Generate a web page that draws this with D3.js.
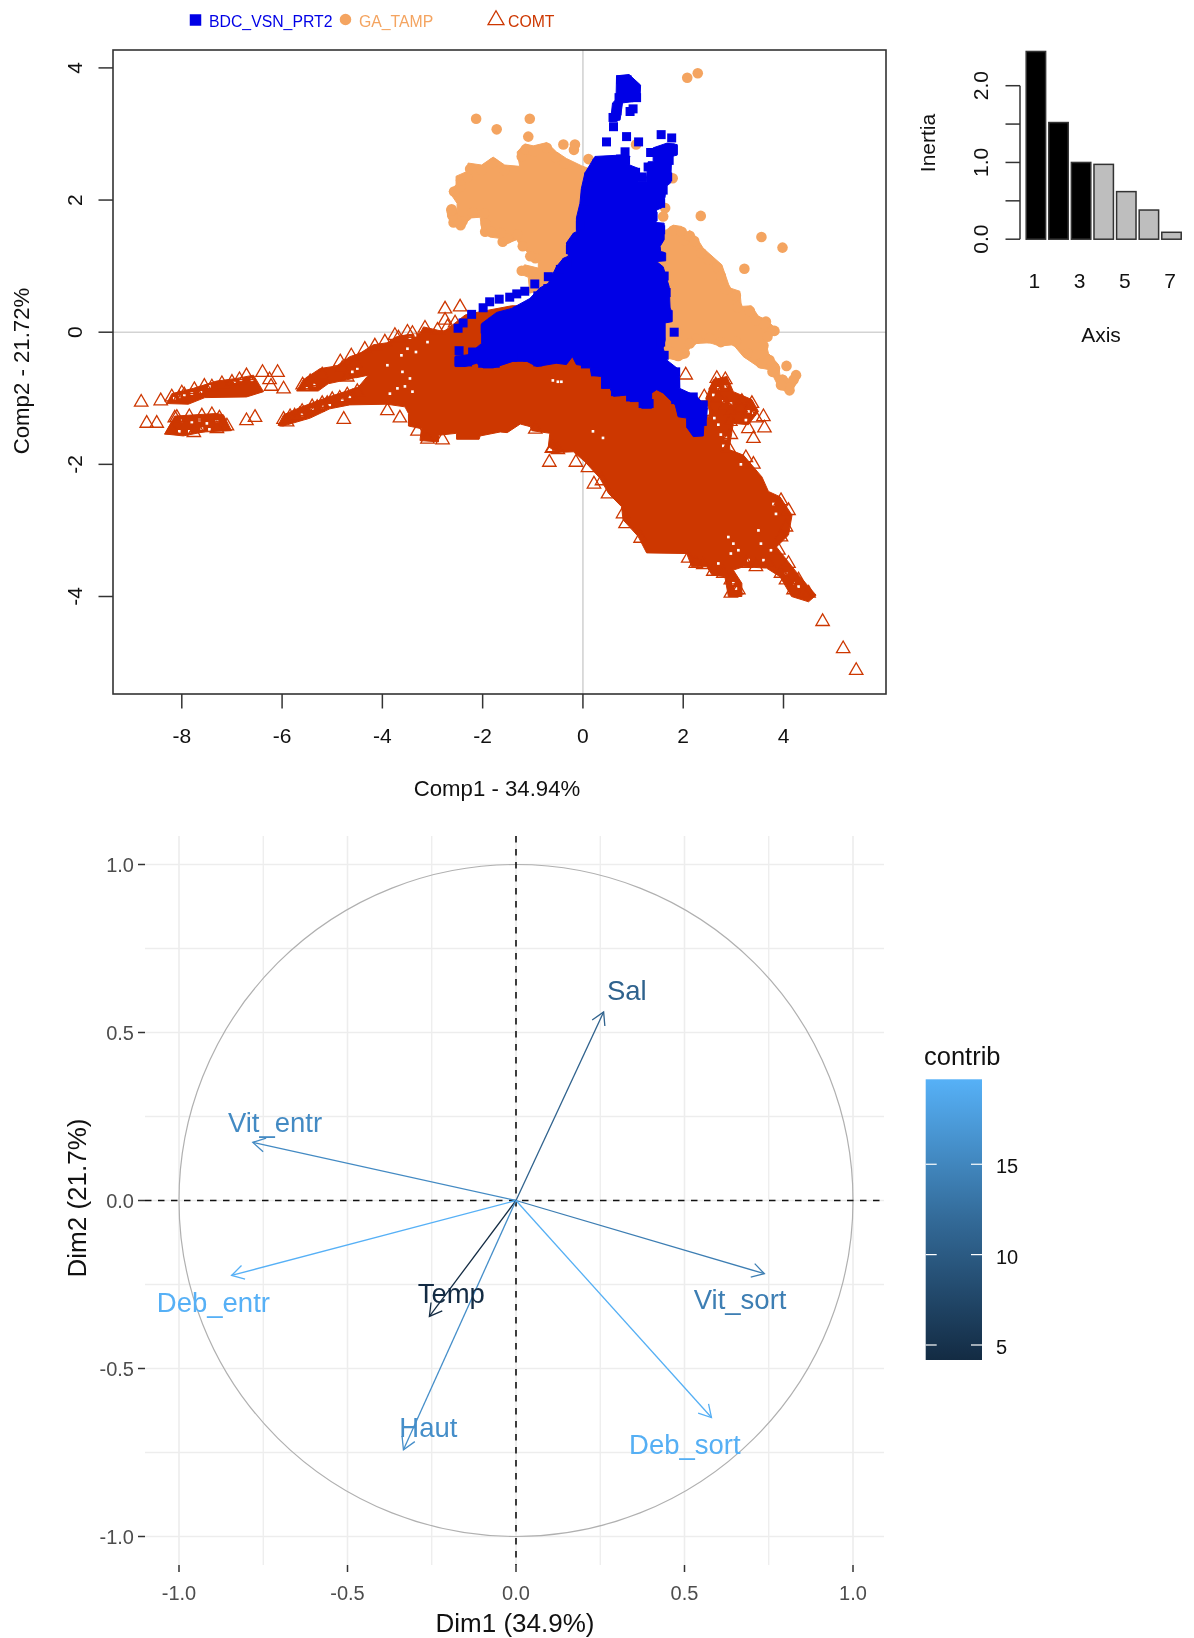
<!DOCTYPE html>
<html><head><meta charset="utf-8">
<script src="https://cdn.jsdelivr.net/npm/d3@7"></script>
<style>html,body{margin:0;padding:0;background:#fff}svg{display:block;filter:blur(0.45px)}text{font-family:"Liberation Sans",Arial,sans-serif}</style>
</head><body><svg id="c" width="1194" height="1638"></svg>
<script>
// ---- individuals map: dense regions (Comp1, Comp2) ----
const orangeLeftOutline=[[-1.31,2.73],[-1.16,2.85],[-.99,2.82],[-.72,2.87],[-.53,2.73],[-.33,2.63],[-.03,2.52],[.34,2.41],[.34,1.15],[-.66,.69],[-.86,.64],[-1.06,.59],[-1.09,.83],[-1.24,.88],[-1.27,.94],[-1.16,1.02],[-.89,.97],[-.89,1.12],[-1.09,1.20],[-1.26,1.32],[-1.32,1.40],[-1.52,1.34],[-1.66,1.42],[-1.86,1.44],[-2.02,1.57],[-2.05,1.74],[-2.22,1.73],[-2.42,1.60],[-2.55,1.62],[-2.70,1.75],[-2.71,1.88],[-2.55,1.90],[-2.51,1.83],[-2.51,1.95],[-2.67,2.13],[-2.53,2.23],[-2.53,2.36],[-2.32,2.43],[-2.29,2.56],[-2.02,2.53],[-1.79,2.65],[-1.56,2.53],[-1.26,2.51],[-1.31,2.71]];
const orangeRightOutline=[[1.67,1.55],[1.80,1.62],[1.97,1.60],[2.03,1.47],[2.13,1.54],[2.25,1.45],[2.40,1.27],[2.77,1.02],[2.93,.67],[3.13,.62],[3.16,.39],[3.36,.40],[3.50,.24],[3.66,.19],[3.86,.04],[3.76,-.07],[3.63,-.09],[3.70,-.32],[3.90,-.49],[3.93,-.65],[4.13,-.72],[4.30,-.72],[4.16,-.90],[3.93,-.87],[3.73,-.57],[3.53,-.54],[3.20,-.37],[3.00,-.19],[2.73,-.21],[2.53,-.16],[2.27,-.17],[2.13,-.24],[2.03,-.39],[1.90,-.43],[1.67,-.39],[1.0,-.37],[1.0,1.40]];
const orangePoints=[[.11,2.62],[-2.13,3.23],[-1.72,3.07],[-1.06,3.23],[-1.09,2.96],[-.39,2.84],[-.16,2.84],[-.18,2.76],[1.06,2.84],[2.08,3.85],[2.29,3.92],[1.79,2.33],[1.64,1.88],[1.60,1.75],[2.35,1.76],[3.56,1.44],[3.98,1.28],[3.22,.96],[4.06,-.51],[4.25,-.65],[-2.62,1.86],[-2.58,1.66],[-2.44,1.62],[-1.95,1.52],[-1.6,1.37],[-1.22,.93],[3.82,.02],[3.98,-.72],[4.12,-.88],[3.65,.16],
[-1.22,2.66],[-1.14,2.77],[-.98,2.74],[-.72,2.79],[-.55,2.65],[-.36,2.55],[-.95,1.12],[-1.05,1.15],[-1.2,1.30],[-1.3,1.48],[-1.5,1.42],[-1.64,1.5],[-1.84,1.52],[-1.94,1.64],[-1.97,1.80],[-2.2,1.81],[-2.4,1.68],[-2.52,1.7],[-2.6,1.76],[-2.62,1.84],[-2.57,2.13],[-2.44,2.2],[-2.43,2.3],[-2.3,2.35],[-2.25,2.47],[-2.02,2.45],[-1.79,2.56],[-1.56,2.45],
[1.80,1.54],[1.97,1.52],[2.03,1.39],[2.13,1.46],[2.22,1.38],[2.36,1.2],[2.5,1.1],[2.68,.98],[2.75,.85],[2.85,.65],[3.05,.55],[3.08,.38],[3.33,.32],[3.45,.18],[3.62,.12],[3.78,.02],[3.68,-.07],[3.6,-.2],[3.72,-.42],[3.83,-.55],[3.98,-.72],[4.2,-.72],[4.1,-.84],[3.95,-.8],[3.78,-.6],[3.55,-.47],[3.28,-.32],[3.05,-.14],[2.75,-.15],[2.53,-.09],[2.27,-.1],[2.13,-.17],[2.03,-.32],[1.9,-.36],[1.75,-.3]];
const redMainOutline=[[-5.71,-.89],[-5.58,-.72],[-5.24,-.55],[-4.91,-.51],[-4.65,-.37],[-4.45,-.32],[-4.18,-.19],[-3.91,-.16],[-3.72,-.07],[-3.52,-.04],[-3.25,-.02],[-3.18,.08],[-2.78,.01],[-2.65,.08],[-2.35,.26],[-2.05,.31],[-1.42,.40],[-1.05,.40],[-1.0,.2],[-.5,0],[.5,-.4],[1.0,-.5],[1.8,-.9],[2.3,-1.05],[2.5,-1.3],[2.6,-1.0],[2.9,-1.45],[2.93,-1.78],[3.20,-1.86],[3.57,-2.19],[3.70,-2.41],[3.93,-2.49],[4.17,-2.77],[4.10,-3.07],[3.86,-3.25],[4.33,-3.70],[4.65,-3.98],[4.50,-4.08],[4.16,-4.00],[3.93,-3.70],[3.66,-3.57],[3.20,-3.55],[3.00,-3.60],[3.17,-3.80],[3.17,-4.00],[2.90,-4.00],[2.83,-3.70],[2.57,-3.67],[2.47,-3.55],[2.17,-3.55],[2.07,-3.35],[1.27,-3.34],[1.10,-3.09],[.80,-2.84],[.77,-2.64],[.51,-2.44],[.34,-2.21],[.04,-1.96],[-.19,-1.81],[-.52,-1.82],[-.69,-1.73],[-.66,-1.53],[-1.02,-1.49],[-1.05,-1.43],[-1.25,-1.39],[-1.51,-1.52],[-1.65,-1.51],[-2.05,-1.57],[-2.07,-1.62],[-2.52,-1.62],[-2.52,-1.53],[-2.88,-1.56],[-2.88,-1.66],[-3.25,-1.64],[-3.22,-1.46],[-3.48,-1.42],[-3.48,-1.23],[-3.55,-1.13],[-3.91,-1.09],[-4.65,-1.10],[-5.05,-1.16],[-5.44,-1.30],[-5.98,-1.42],[-6.08,-1.41],[-5.97,-1.25],[-5.61,-1.13],[-5.11,-.99],[-4.71,-.89],[-4.48,-.83],[-4.28,-.65],[-4.71,-.72],[-5.08,-.78],[-5.28,-.89]];
const redArmOutline=[[-8.30,-1.08],[-8.20,-.93],[-7.77,-.85],[-7.31,-.74],[-6.91,-.70],[-6.57,-.65],[-6.37,-.90],[-6.71,-.98],[-7.54,-.99],[-7.87,-1.09]];
const redBlobOutline=[[-8.34,-1.54],[-8.14,-1.27],[-7.31,-1.23],[-7.17,-1.25],[-7.01,-1.49],[-7.57,-1.51],[-7.97,-1.57]];
const redClusterOutline=[[2.60,-.72],[2.87,-.67],[3.00,-.90],[3.37,-1.02],[3.50,-1.20],[3.30,-1.40],[3.00,-1.38],[2.93,-1.70],[2.60,-1.40],[2.45,-1.0]];
const redPoints=[[-8.81,-1.06],[-8.42,-1.04],[-8.70,-1.38],[-8.50,-1.38],[-6.39,-.61],[-6.09,-.61],[-6.22,-.82],[-5.97,-.86],[-6.71,-1.34],[-6.54,-1.29],[-4.77,-1.32],[-3.90,-1.19],[-6.71,-.66],[-7.76,-1.52],[-8.14,-1.30],[-5.97,-1.32],[-5.84,-1.28],[-5.59,-.80],[-5.44,-.75],[-4.84,-.45],[-4.35,-.26],[-4.15,-.21],[-4.62,-.36],[-3.15,.06],[-3.68,-.09],[-2.75,.35],[-2.45,.38],[-.67,-1.97],[-.14,-1.97],[.22,-2.30],[-.62,-1.76],[4.78,-4.38],[5.19,-4.79],[5.45,-5.12],[2.05,-.65],[2.67,-.70],[2.84,-.72],[2.42,-.98],[3.17,-1.05],[3.37,-1.08],[3.60,-1.28],[3.62,-1.45],[3.40,-1.61],[3.30,-1.46],[2.94,-1.35],
[-8.2,-.98],[-8.0,-.92],[-7.75,-.87],[-7.4,-.83],[-7.0,-.76],[-6.85,-.72],[-8.1,-1.29],[-7.85,-1.28],[-7.6,-1.27],[-7.4,-1.25],[-7.25,-1.3],[-7.1,-1.42],[-7.3,-1.46],[-8.2,-1.48],[-7.7,-1.45],[-5.6,-1.2],[-5.4,-1.13],[-5.2,-1.08],[-5.0,-1.02],[-4.7,-.95],[-4.5,-.9],[-5.75,-1.27],[-5.5,-.8],[-5.2,-.65],[-4.8,-.55],[-4.55,-.47],[-4.7,-.68],[-3.95,-.15],[-3.75,-.05],[-3.5,0],[-3.4,-.02],[-2.9,.03],[-2.75,.18],[-2.7,.08],[-2.55,.14],[-3.65,-1.3],[-3.3,-1.5],[-3.1,-1.62],[-2.8,-1.63],[-.95,-1.47],[-.6,-1.75],[-.5,-1.78],[.1,-2.05],[.38,-2.25],[.5,-2.45],[.8,-2.75],[.85,-2.9],[1.15,-3.12],[2.1,-3.42],[2.25,-3.5],[2.4,-3.52],[2.6,-3.62],[2.8,-3.65],[2.95,-3.75],[3.05,-3.9],[2.95,-3.95],[3.1,-3.9],[3.25,-3.5],[3.45,-3.55],[3.7,-3.5],[3.95,-3.65],[4.05,-3.75],[4.2,-3.9],[4.4,-3.95],[4.5,-3.95],[4.3,-3.75],[4.1,-3.5],[3.9,-3.3],[3.95,-3.1],[4.05,-2.95],[4.1,-2.7],[3.95,-2.55],[3.25,-1.9],[3.4,-2.0],[2.65,-.8],[2.8,-.85],[2.7,-1.0],[2.85,-1.1],[2.95,-1.2],[3.15,-1.15],[3.3,-1.2],[3.45,-1.3],[2.95,-1.55],[2.9,-1.75],[2.5,-1.2],
[-5.9,-1.36],[-5.65,-1.25],[-5.3,-1.14],[-5.1,-1.08],[-4.85,-1.0],[-4.6,-.98],[-6.25,-.72],[-7.95,-.95],[-8.05,-1.0],[-7.55,-.82],[-7.2,-.78]];
const redGaps=[[-8.15,-1.0],[-8.05,-.98],[-7.95,-.96],[-7.8,-.93],[-7.62,-.9],[-7.45,-.82],[-6.95,-.76],[-6.82,-.72],[-6.6,-.72],[-8.0,-1.34],[-7.8,-1.36],[-7.65,-1.33],[-7.5,-1.38],[-7.3,-1.35],[-7.6,-1.46],[-7.45,-1.47],[-7.85,-1.5],[-8.05,-1.5],[-5.4,-1.17],[-5.2,-1.13],[-5.05,-1.1],[-4.8,-1.02],[-4.65,-.98],[-5.6,-1.25],[-4.6,-.6],[-4.5,-.55],[-4.55,-.72],[-5.35,-.8],[-5.5,-.85],[-3.9,-.5],[-3.6,-.6],[-3.7,-.85],[-3.55,-.82],[-3.4,-.9],[-3.85,-.93],[-3.45,-.7],[-3.62,-.35],[-3.5,-.25],[-3.33,-.3],[-3.1,-.15],[-3.45,-.08],[-3.35,-.05],[-.6,-.73],[-.5,-.75],[-.43,-.75],[.2,-1.5],[.4,-1.6],[2.7,-.85],[2.85,-.82],[2.6,-.95],[2.8,-1.05],[2.95,-1.08],[3.3,-1.2],[3.4,-1.22],[3.25,-1.33],[2.62,-1.3],[2.7,-1.4],[2.75,-1.55],[2.85,-1.6],[2.8,-1.72],[3.15,-2.0],[3.8,-2.6],[3.85,-2.75],[3.5,-3.0],[2.9,-3.1],[3.0,-3.2],[3.1,-3.3],[2.95,-3.35],[3.55,-3.2],[3.75,-3.3],[3.3,-3.45],[3.6,-3.45],[3.0,-3.8],[3.05,-3.88],[4.2,-3.8],[4.3,-3.85],[4.05,-3.65],[2.7,-3.5]];
const blueBodyOutline=[[.24,2.66],[.74,2.68],[.94,2.66],[.87,2.55],[1.10,2.48],[1.10,2.28],[1.26,2.28],[1.30,2.58],[1.40,2.58],[1.40,2.79],[1.67,2.86],[1.88,2.84],[1.88,2.68],[1.77,2.66],[1.75,2.26],[1.65,2.20],[1.64,2.05],[1.57,1.88],[1.47,1.85],[1.46,1.66],[1.62,1.65],[1.62,1.40],[1.54,1.30],[1.55,1.22],[1.65,1.20],[1.65,1.08],[1.47,1.07],[1.60,.99],[1.72,.69],[1.74,.34],[1.78,.33],[1.78,.16],[1.64,.14],[1.64,-.12],[1.60,-.24],[1.67,-.42],[1.92,-.57],[1.93,-.85],[2.27,-.97],[2.48,-1.15],[2.47,-1.28],[2.41,-1.43],[2.40,-1.57],[2.20,-1.58],[2.08,-1.45],[2.07,-1.30],[1.90,-1.28],[1.84,-1.10],[1.60,-.92],[1.47,-.87],[1.37,-.92],[1.37,-1.15],[1.17,-1.15],[1.15,-1.05],[.94,-1.05],[.90,-.95],[.61,-.97],[.54,-.85],[.37,-.85],[.37,-.67],[.17,-.65],[.14,-.52],[-.13,-.49],[-.21,-.37],[-.33,-.49],[-.53,-.47],[-.92,-.52],[-1.12,-.44],[-1.39,-.44],[-1.79,-.54],[-1.99,-.54],[-2.12,-.47],[-2.35,-.52],[-2.55,-.52],[-2.55,-.37],[-2.29,-.34],[-2.02,-.17],[-2.02,.13],[-1.72,.30],[-1.42,.36],[-1.06,.51],[-.86,.67],[-.69,.74],[-.53,.99],[-.39,1.12],[-.29,1.15],[-.33,1.35],[-.19,1.50],[-.13,1.52],[-.13,1.73],[-.06,1.95],[-.03,2.18],[.04,2.41]];
const blueFingerOutline=[[.67,3.88],[.92,3.90],[1.15,3.74],[1.14,3.57],[1.00,3.49],[.79,3.47],[.74,3.21],[.55,3.19],[.59,3.47],[.66,3.52]];
const bluePoints=[[.61,3.11],[.47,2.88],[.87,2.96],[.94,3.34],[1.00,3.38],[1.11,2.88],[1.56,2.99],[1.77,2.94],[1.74,2.79],[.84,2.73],[-.96,.73],[-.69,.84],[-1.99,.37],[-2.22,.27],[-2.49,.06],[-2.39,.14],[-2.47,-.28],[-2.47,-.44],[1.82,0],[1.27,-1.07],[-1.86,.46],[-1.67,.50],[-1.46,.53],[-1.32,.58],[-1.16,.62],
[-.9,.55],[-.7,.66],[-.55,.82],[-.45,.95],[-.32,1.05],[-.25,1.25],[-.12,1.42],[-.05,1.62],[.02,1.85],[.05,2.1],[.12,2.35],[.28,2.55],[-1.3,.32],[-1.55,.25],[-1.8,.15],[-1.95,.05],[-2.2,-.3],[-2.45,-.42],[-2.3,-.45],[-2.0,-.47],[-1.75,-.47],[-1.4,-.38],[-1.1,-.38],[-.9,-.45],[-.5,-.4],[.05,-.48],[.25,-.6],[.45,-.78],[.65,-.9],[.95,-.98],[1.2,-1.08],[1.32,-1.08],[1.85,-1.02],[1.98,-1.2],[2.15,-1.38],[2.28,-1.5],[2.38,-1.35],[2.4,-1.1],[2.2,-.98],[1.85,-.78],[1.85,-.6],[1.62,-.35],[1.55,-.15],[1.66,.3],[1.66,.6],[1.62,.85],[1.52,1.15],[1.55,1.55],[1.4,1.75],[1.55,1.95],[1.6,2.15],[1.69,2.35],[1.72,2.6],[1.8,2.76],[1.35,2.72],[1.3,2.5],[1.18,2.35],[1.05,2.42],[.85,2.6],[.75,2.62],[.75,3.82],[.88,3.82],[1.05,3.68],[1.07,3.55],[.92,3.55],[.72,3.55],[.68,3.35],[.6,3.25]];
const xTicksMap=[-8,-6,-4,-2,0,2,4];
const yTicksMap=[-4,-2,0,2,4];
const groupNames=["BDC_VSN_PRT2","GA_TAMP","COMT"];
// ---- inertia bars ----
const axisNumbers=[1,2,3,4,5,6,7];
const inertia=[2.446,1.52,1.0,.975,.62,.38,.09];
const kept=[true,true,true,false,false,false,false];
const inertiaTicks=[0,.5,1,1.5,2];
const inertiaLabels=[0,1,2];
const axisLabels=[1,3,5,7];
// ---- correlation circle ----
const varNames=["Vit_entr","Deb_entr","Temp","Haut","Sal","Vit_sort","Deb_sort"];
const dim1=[-.781,-.844,-.257,-.334,.26,.737,.58];
const dim2=[.173,-.223,-.345,-.742,.561,-.218,-.646];
const labelDim1=[-.715,-.898,-.192,-.260,.329,.665,.501];
const labelDim2=[.232,-.302,-.277,-.676,.625,-.295,-.725];
const contrib=[15.5,19.6,4.2,16,11,14.2,19.5];
const gridMajor=[-1,-.5,0,.5,1];
const gridMinor=[-.75,-.25,.25,.75];
const contribTicks=[5,10,15];

const svg=d3.select("#c");
const ORANGE="#F4A460",RED="#CD3700",BLUE="#0000E6",INK="#333";
const x=d3.scaleLinear().domain([-8,4]).range([181.8,783.5]);
const y=d3.scaleLinear().domain([-4,4]).range([596.5,67.9]);
const box={l:113,r:886,t:50,b:694};
const area=d3.line().x(d=>x(d[0])).y(d=>y(d[1])).curve(d3.curveLinearClosed);

svg.append("g").attr("stroke","#D3D3D3").attr("stroke-width",1.6).call(g=>{
 g.append("line").attr("x1",x(0)).attr("x2",x(0)).attr("y1",box.t).attr("y2",box.b);
 g.append("line").attr("x1",box.l).attr("x2",box.r).attr("y1",y(0)).attr("y2",y(0));
});
const poly=(arr,col)=>svg.append("path").attr("d",area(arr)).attr("fill",col).attr("stroke",col).attr("stroke-width",1).attr("stroke-linejoin","round");
const pts=(arr,type,size,fill,stroke,sw)=>svg.append("g").selectAll("path").data(arr).join("path")
 .attr("d",d3.symbol().type(type).size(size)).attr("transform",d=>`translate(${x(d[0])},${y(d[1])})`)
 .attr("fill",fill).attr("stroke",stroke).attr("stroke-width",sw);
poly(orangeLeftOutline,ORANGE);poly(orangeRightOutline,ORANGE);
pts(orangePoints,d3.symbolCircle,88,ORANGE,"none",0);
poly(redMainOutline,RED);poly(redArmOutline,RED);poly(redBlobOutline,RED);poly(redClusterOutline,RED);
pts(redGaps,d3.symbolSquare,7,"#fff","none",0);
pts(redPoints,d3.symbolTriangle,78,"none",RED,1.3);
poly(blueBodyOutline,BLUE);poly(blueFingerOutline,BLUE);
pts(bluePoints,d3.symbolSquare,81,BLUE,"none",0);

svg.append("rect").attr("x",box.l).attr("y",box.t).attr("width",box.r-box.l).attr("height",box.b-box.t).attr("fill","none").attr("stroke",INK).attr("stroke-width",1.6);
const xg=svg.append("g").selectAll("g").data(xTicksMap).join("g").attr("transform",d=>`translate(${x(d)},${box.b})`);
xg.append("line").attr("y2",14.5).attr("stroke",INK).attr("stroke-width",1.5);
xg.append("text").text(d=>d).attr("y",49).attr("text-anchor","middle").attr("font-size",21).attr("fill","#111");
const yg=svg.append("g").selectAll("g").data(yTicksMap).join("g").attr("transform",d=>`translate(${box.l},${y(d)})`);
yg.append("line").attr("x2",-14.5).attr("stroke",INK).attr("stroke-width",1.5);
yg.append("text").text(d=>d).attr("transform","translate(-31,0) rotate(-90)").attr("text-anchor","middle").attr("font-size",21).attr("fill","#111");
svg.append("text").text("Comp1 - 34.94%").attr("x",497).attr("y",796).attr("text-anchor","middle").attr("font-size",22.2).attr("fill","#111");
svg.append("text").text("Comp2 - 21.72%").attr("transform","translate(29,371) rotate(-90)").attr("text-anchor","middle").attr("font-size",22.2).attr("fill","#111");

// legend
const lg=svg.append("g").attr("font-size",15.8);
lg.append("path").attr("d",d3.symbol().type(d3.symbolSquare).size(132)).attr("transform","translate(195.5,20)").attr("fill",BLUE);
lg.append("text").text(groupNames[0]).attr("x",209).attr("y",27).attr("fill",BLUE);
lg.append("path").attr("d",d3.symbol().type(d3.symbolCircle).size(105)).attr("transform","translate(345.5,19.5)").attr("fill",ORANGE);
lg.append("text").text(groupNames[1]).attr("x",359).attr("y",27).attr("fill",ORANGE);
lg.append("path").attr("d",d3.symbol().type(d3.symbolTriangle).size(110)).attr("transform","translate(496,20)").attr("fill","none").attr("stroke",RED).attr("stroke-width",1.3);
lg.append("text").text(groupNames[2]).attr("x",508).attr("y",27).attr("fill",RED);

// inertia
const bx=d3.scaleBand().domain(axisNumbers).range([1024.6,1182.8]).paddingInner(.14).paddingOuter(.07);
const by=d3.scaleLinear().domain([0,2]).range([239.2,85.7]);
svg.append("g").selectAll("rect").data(inertia).join("rect")
 .attr("x",(d,i)=>bx(axisNumbers[i])).attr("width",bx.bandwidth()).attr("y",d=>by(d)).attr("height",d=>by(0)-by(d))
 .attr("fill",(d,i)=>kept[i]?"#000":"#BEBEBE").attr("stroke","#333").attr("stroke-width",1.5);
svg.append("line").attr("x1",1020).attr("x2",1020).attr("y1",by(2)).attr("y2",by(0)).attr("stroke",INK).attr("stroke-width",1.5);
svg.append("g").selectAll("line").data(inertiaTicks).join("line").attr("x1",1005.5).attr("x2",1020).attr("y1",d=>by(d)).attr("y2",d=>by(d)).attr("stroke",INK).attr("stroke-width",1.5);
svg.append("g").selectAll("text").data(inertiaLabels).join("text").text(d=>d.toFixed(1))
 .attr("transform",d=>`translate(988,${by(d)}) rotate(-90)`).attr("text-anchor","middle").attr("font-size",21).attr("fill","#111");
svg.append("g").selectAll("text").data(axisLabels).join("text").text(d=>d)
 .attr("x",d=>bx(d)+bx.bandwidth()/2-1.5).attr("y",288).attr("text-anchor","middle").attr("font-size",21).attr("fill","#111");
svg.append("text").text("Axis").attr("x",1101).attr("y",342).attr("text-anchor","middle").attr("font-size",21).attr("fill","#111");
svg.append("text").text("Inertia").attr("transform","translate(935,143) rotate(-90)").attr("text-anchor","middle").attr("font-size",21).attr("fill","#111");

// correlation circle
const P={l:145,r:884,t:836,b:1565};
const cx=d3.scaleLinear().domain([-1,1]).range([179,853]);
const cy=d3.scaleLinear().domain([-1,1]).range([1536.5,864.5]);
const color=d3.scaleLinear().domain([4.17,19.7]).range(["#132B43","#56B1F7"]).interpolate(d3.interpolateLab);
const grid=svg.append("g");
const gl=(vals,w)=>{vals.forEach(v=>{
 grid.append("line").attr("x1",cx(v)).attr("x2",cx(v)).attr("y1",P.t).attr("y2",P.b).attr("stroke","#EDEDED").attr("stroke-width",w);
 grid.append("line").attr("x1",P.l).attr("x2",P.r).attr("y1",cy(v)).attr("y2",cy(v)).attr("stroke","#EDEDED").attr("stroke-width",w);
});};
gl(gridMinor,1.3);gl(gridMajor,1.6);
svg.append("ellipse").attr("cx",cx(0)).attr("cy",cy(0)).attr("rx",cx(1)-cx(0)).attr("ry",cy(0)-cy(1)).attr("fill","none").attr("stroke","#B0B0B0").attr("stroke-width",1.2);
svg.append("line").attr("x1",P.l).attr("x2",P.r).attr("y1",cy(0)).attr("y2",cy(0)).attr("stroke","#111").attr("stroke-width",1.6).attr("stroke-dasharray","6.5 6.5");
svg.append("line").attr("x1",cx(0)).attr("x2",cx(0)).attr("y1",P.t).attr("y2",P.b).attr("stroke","#111").attr("stroke-width",1.6).attr("stroke-dasharray","6.5 6.5");
const ar=svg.append("g").attr("fill","none").attr("stroke-width",1.3);
varNames.forEach((n,i)=>{
 const tx=cx(dim1[i]),ty=cy(dim2[i]),a=Math.atan2(ty-cy(0),tx-cx(0)),h=14,s=Math.PI/6;
 const c=color(contrib[i]);
 ar.append("line").attr("x1",cx(0)).attr("y1",cy(0)).attr("x2",tx).attr("y2",ty).attr("stroke",c);
 ar.append("path").attr("d",d3.line()([[tx-h*Math.cos(a-s),ty-h*Math.sin(a-s)],[tx,ty],[tx-h*Math.cos(a+s),ty-h*Math.sin(a+s)]])).attr("stroke",c);
 svg.append("text").text(n).attr("x",cx(labelDim1[i])).attr("y",cy(labelDim2[i])).attr("dy","0.35em").attr("text-anchor","middle").attr("font-size",27.5).attr("fill",c);
});
const cxt=svg.append("g").selectAll("g").data(gridMajor).join("g").attr("transform",d=>`translate(${cx(d)},${P.b})`);
cxt.append("line").attr("y2",7).attr("stroke","#333").attr("stroke-width",1.5);
cxt.append("text").text(d=>d.toFixed(1)).attr("y",35).attr("text-anchor","middle").attr("font-size",20).attr("fill","#4D4D4D");
const cyt=svg.append("g").selectAll("g").data(gridMajor).join("g").attr("transform",d=>`translate(${P.l},${cy(d)})`);
cyt.append("line").attr("x2",-7).attr("stroke","#333").attr("stroke-width",1.5);
cyt.append("text").text(d=>d.toFixed(1)).attr("x",-11).attr("dy","0.35em").attr("text-anchor","end").attr("font-size",20).attr("fill","#4D4D4D");
svg.append("text").text("Dim1 (34.9%)").attr("x",515).attr("y",1632).attr("text-anchor","middle").attr("font-size",26).attr("fill","#111");
svg.append("text").text("Dim2 (21.7%)").attr("transform","translate(86,1198) rotate(-90)").attr("text-anchor","middle").attr("font-size",26).attr("fill","#111");

// colour bar
const L={l:925.7,r:982,t:1079.3,b:1360};
const ly=d3.scaleLinear().domain(color.domain()).range([L.b,L.t]);
const defs=svg.append("defs");
const gr=defs.append("linearGradient").attr("id","cb").attr("x1",0).attr("x2",0).attr("y1",1).attr("y2",0);
gr.append("stop").attr("offset",0).attr("stop-color",color.range()[0]);
gr.append("stop").attr("offset",.5).attr("stop-color",color((color.domain()[0]+color.domain()[1])/2));
gr.append("stop").attr("offset",1).attr("stop-color",color.range()[1]);
svg.append("rect").attr("x",L.l).attr("y",L.t).attr("width",L.r-L.l).attr("height",L.b-L.t).attr("fill","url(#cb)");
const lt=svg.append("g").selectAll("g").data(contribTicks).join("g");
lt.append("line").attr("x1",L.l).attr("x2",L.l+11).attr("y1",d=>ly(d)).attr("y2",d=>ly(d)).attr("stroke","#fff").attr("stroke-width",1.2);
lt.append("line").attr("x1",L.r-11).attr("x2",L.r).attr("y1",d=>ly(d)).attr("y2",d=>ly(d)).attr("stroke","#fff").attr("stroke-width",1.2);
lt.append("text").text(d=>d).attr("x",996).attr("y",d=>ly(d)).attr("dy","0.45em").attr("font-size",20).attr("fill","#111");
svg.append("text").text("contrib").attr("x",924).attr("y",1065).attr("font-size",25.5).attr("fill","#111");
</script></body></html>
